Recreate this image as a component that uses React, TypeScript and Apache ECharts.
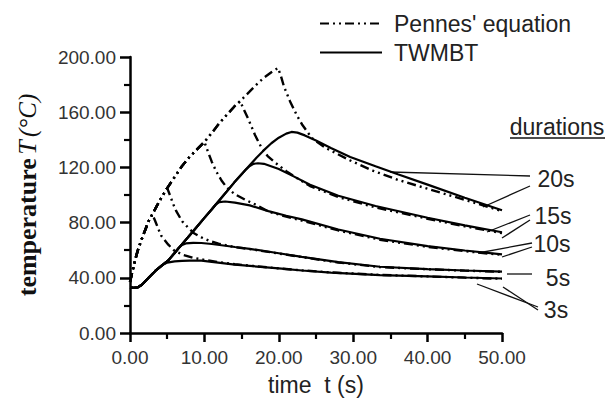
import React, { useEffect, useRef } from "react";
import * as echarts from "echarts";

// ---- data (time s, temperature °C) ----
const xTicks = [0, 10, 20, 30, 40, 50];
const yTicks = [0, 40, 80, 120, 160, 200];

const durations = ["3s", "5s", "10s", "15s", "20s"];

// TWMBT (solid)
const twmbt3 = [[0,33],[0.5,32.8],[1,33],[1.6,35],[2.5,40],[3.4,45],[4.3,49],[5,51],[6,51.9],[7,52.3],[8,52.5],[9.6,52.5],[11,51.6],[14.1,49.5],[16.1,48.6],[20,46.8],[23.1,45.3],[27,43.8],[33.6,42],[40,41],[45,40.2],[50,39.5]];
const twmbt5 = [[0,33],[0.5,32.8],[1,33],[1.6,35],[2.5,40],[3.4,45],[4.3,49],[5.15,52.6],[6,58],[6.5,61.5],[7,63.8],[7.5,64.9],[8.5,65.3],[9.6,65.2],[11,64.5],[14.1,62.3],[16.1,61],[20,57.8],[23.1,55.2],[28,51.3],[33.6,48],[40,46.3],[45,45.3],[50,44.5]];
const twmbt10 = [[0,33],[0.5,32.8],[1,33],[1.6,35],[2.5,40],[3.4,45],[4.3,49],[5.15,52.6],[6,58],[7,64.4],[8,70.7],[9,77],[10,83.4],[11,89.7],[11.5,93],[12,94.8],[12.8,95.3],[14.1,94.5],[16.1,92.5],[18.6,88.3],[21,85],[23.1,82.3],[28,75],[33.6,68.3],[40,63],[45,59.8],[50,57]];
const twmbt15 = [[0,33],[0.5,32.8],[1,33],[1.6,35],[2.5,40],[3.4,45],[4.3,49],[5.15,52.6],[6,58],[7,64.4],[8,70.7],[9,77],[10,83.4],[11,89.7],[11.9,95.5],[13,102.5],[14,109],[15,115],[15.6,118.6],[16.1,121],[16.6,122.6],[17.2,123],[18,122.6],[20,118.8],[22,113.5],[24.2,107.5],[28,99.5],[33,92],[40,83.5],[45,78],[50,73]];
const twmbt20 = [[0,33],[0.5,32.8],[1,33],[1.6,35],[2.5,40],[3.4,45],[4.3,49],[5.15,52.6],[6,58],[7,64.4],[8,70.7],[9,77],[10,83.4],[11,89.7],[11.9,95.5],[13,102.5],[14,109],[15,115],[16,121],[17,127],[18,132.5],[19,137.5],[20,141.5],[21,144.5],[21.7,145.7],[22.5,145.2],[23.5,143.2],[25,139.5],[27,134],[29.6,127.5],[33,120.8],[36,115],[40,107.5],[45,98],[50,89]];

// Pennes' equation (dash-dot)
const pennes3 = [[0,37],[0.3,44],[0.7,53],[1,59],[1.5,67],[2,74],[2.5,81],[3,86],[3.4,81],[3.8,75.5],[4.2,70.5],[5.15,64],[6,59.5],[7.2,56.5],[8.5,54.5],[10,53],[12,51.3],[14.1,49.8],[16.1,48.8],[20,46.8],[23.1,45.4],[27,43.9],[33.6,42.1],[40,41],[45,40.1],[50,39.3]];
const pennes5 = [[0,37],[0.3,44],[0.7,53],[1,59],[1.5,67],[2,74],[2.5,81],[3,86],[3.5,91],[4,96],[4.5,100.5],[5,105],[5.4,99.5],[5.8,93.5],[6.2,88.5],[7,81],[7.8,76.4],[8.6,72.3],[9.6,69.3],[10.8,66.5],[11.9,64.8],[14.1,62.2],[16.1,60.8],[20,57.6],[23.1,55],[28,51.1],[33.6,47.8],[40,46.2],[45,45.2],[50,44.3]];
const pennes10 = [[0,37],[0.3,44],[0.7,53],[1,59],[1.5,67],[2,74],[2.5,81],[3,86],[3.5,91],[4,96],[4.5,100.5],[5,105],[6,113],[7,121],[8,127.5],[9,133],[10,138.5],[10.5,131],[11,124],[11.6,117],[12.3,110.5],[13,105.5],[14.1,100.5],[15.5,96.5],[17,92.8],[18.6,88],[21,84.3],[23.1,81.5],[28,74.3],[33.6,67.6],[40,62.4],[45,59.3],[50,56.6]];
const pennes15 = [[0,37],[0.3,44],[0.7,53],[1,59],[1.5,67],[2,74],[2.5,81],[3,86],[3.5,91],[4,96],[4.5,100.5],[5,105],[6,113],[7,121],[8,127.5],[9,133],[10,138.5],[11,145],[12,152],[13,158],[14,164],[14.8,168],[15.3,162],[15.9,155],[16.8,143.5],[17.7,134],[18.5,128.2],[19.5,123.5],[21,117.3],[22.2,113],[24.2,106.5],[28,98.5],[33,91],[40,82.8],[45,77.3],[50,72.4]];
const pennes20 = [[0,37],[0.3,44],[0.7,53],[1,59],[1.5,67],[2,74],[2.5,81],[3,86],[3.5,91],[4,96],[4.5,100.5],[5,105],[6,113],[7,121],[8,127.5],[9,133],[10,138.5],[11,145],[12,152],[13,158],[14,164],[14.8,168],[16,174.5],[17,180],[18,185],[19,189],[19.9,192],[20.3,186],[20.7,178.5],[21.5,168],[22.4,158],[23.2,150.5],[24,144.5],[24.6,140.5],[26.4,133.8],[29.6,125],[32.7,117.5],[36,111],[40,104.5],[45,96.5],[50,88.3]];

const twmbtSeries = [twmbt3, twmbt5, twmbt10, twmbt15, twmbt20];
const pennesSeries = [pennes3, pennes5, pennes10, pennes15, pennes20];

const SANS = "'Liberation Sans', Arial, sans-serif";
const SERIF = "'Liberation Serif', 'Times New Roman', serif";

export default function App() {
  const ref = useRef<HTMLDivElement>(null);
  useEffect(() => {
    if (!ref.current) return;
    const chart = echarts.init(ref.current, null, { renderer: "svg" });
    const series: any[] = [];
    pennesSeries.forEach((d) => {
      series.push({
        name: "Pennes' equation",
        type: "line",
        data: d,
        symbol: "none",
        z: 3,
        itemStyle: { color: "#000" },
        lineStyle: { color: "#000", width: 2.4, type: [9, 4, 2, 4, 2, 4] },
      });
    });
    twmbtSeries.forEach((d) => {
      series.push({
        name: "TWMBT",
        type: "line",
        data: d,
        symbol: "none",
        z: 4,
        itemStyle: { color: "#000" },
        lineStyle: { color: "#000", width: 2.2, type: "solid" },
      });
    });

    const lead = (x1: number, y1: number, x2: number, y2: number) => ({
      type: "line",
      shape: { x1, y1, x2, y2 },
      style: { stroke: "#111", lineWidth: 1.3 },
    });
    const lbl = (text: string, x: number, y: number) => ({
      type: "text",
      x,
      y,
      style: {
        text,
        fill: "#222",
        font: `23px ${SANS}`,
        textAlign: "center",
        textVerticalAlign: "middle",
      },
    });

    chart.setOption({
      animation: false,
      grid: { left: 130, right: 104, top: 57, bottom: 64, containLabel: false },
      legend: {
        orient: "vertical",
        left: 314,
        top: 7,
        itemWidth: 62,
        itemHeight: 14,
        itemGap: 6,
        data: ["Pennes' equation", "TWMBT"],
        itemStyle: { opacity: 0 },
        textStyle: { fontSize: 23, fontFamily: SANS, color: "#222", padding: [0, 0, 0, 7] },
      },
      xAxis: {
        type: "value",
        min: xTicks[0],
        max: xTicks[xTicks.length - 1],
        interval: 10,
        name: "time\u00a0\u00a0t (s)",
        nameLocation: "middle",
        nameGap: 40,
        nameTextStyle: { fontSize: 23, fontFamily: SANS, color: "#222" },
        axisLine: { lineStyle: { color: "#000", width: 2.5 } },
        axisTick: { length: 9, lineStyle: { color: "#000", width: 2.5 } },
        minorTick: { show: true, splitNumber: 2, length: 6, lineStyle: { color: "#000", width: 2.2 } },
        splitLine: { show: false },
        axisLabel: {
          margin: 15,
          fontSize: 19,
          fontFamily: SANS,
          color: "#333",
          formatter: (v: number) => v.toFixed(2),
        },
      },
      yAxis: {
        type: "value",
        min: yTicks[0],
        max: yTicks[yTicks.length - 1],
        interval: 40,
        name: "{b|temperature} {i|T} {n|(°C)}",
        nameLocation: "middle",
        nameGap: 90,
        nameTextStyle: {
          rich: {
            b: { fontFamily: SERIF, fontWeight: "bold", fontSize: 26, color: "#111" },
            i: { fontFamily: SERIF, fontStyle: "italic", fontSize: 26, color: "#111" },
            n: { fontFamily: SERIF, fontStyle: "italic", fontSize: 25, color: "#111" },
          },
        },
        axisLine: { show: true, lineStyle: { color: "#000", width: 2.5 } },
        axisTick: { show: true, length: 10, lineStyle: { color: "#000", width: 2.5 } },
        minorTick: { show: true, splitNumber: 2, length: 6, lineStyle: { color: "#000", width: 2.2 } },
        splitLine: { show: false },
        axisLabel: {
          margin: 14,
          fontSize: 19,
          fontFamily: SANS,
          color: "#333",
          formatter: (v: number) => v.toFixed(2),
        },
      },
      series,
      graphic: [
        lbl("durations", 557, 127),
        lead(510, 138, 605, 138),
        lbl(durations[4], 556, 179),
        lead(390, 172, 530, 176),
        lead(530, 186, 483, 207),
        lbl(durations[3], 553, 216),
        lead(530, 215, 487, 232),
        lead(530, 220, 502, 238),
        lbl(durations[2], 552, 244),
        lead(532, 243, 478, 253),
        lead(532, 247, 502, 257),
        lbl(durations[1], 558, 278),
        lead(507, 274, 532, 274),
        lbl(durations[0], 556, 310),
        lead(538, 307, 477, 284),
        lead(538, 310, 503, 287),
      ],
    });
    return () => chart.dispose();
  }, []);
  return <div ref={ref} style={{ width: 606, height: 401, position: "absolute", left: 0, top: 0 }} />;
}
